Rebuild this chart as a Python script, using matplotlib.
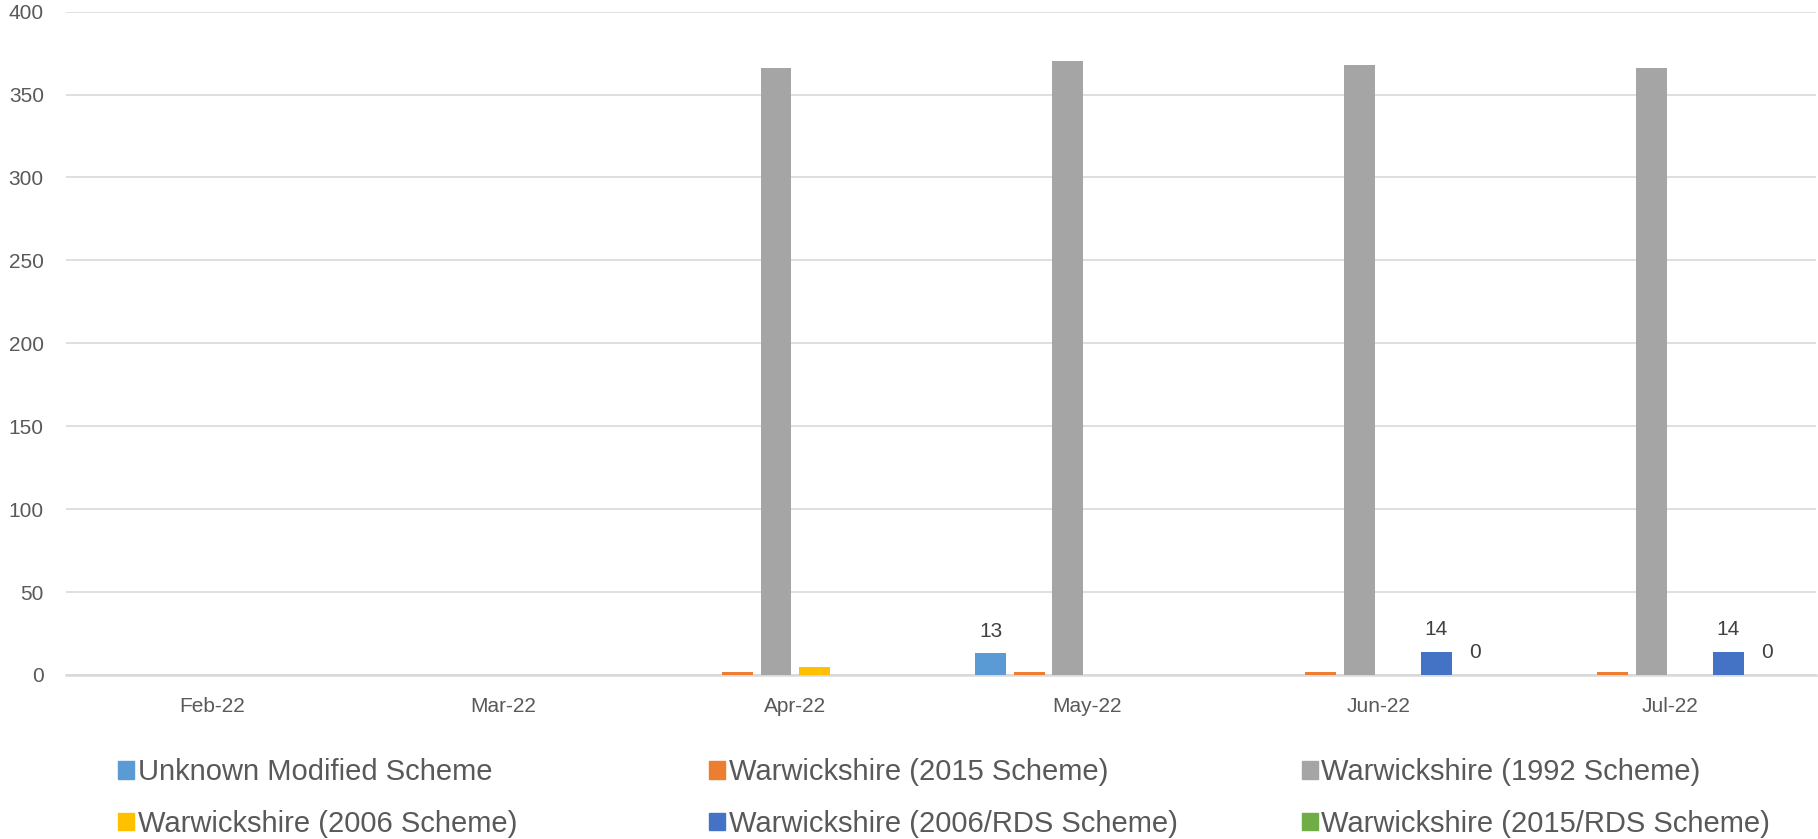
import numpy as np
import matplotlib.pyplot as plt
from matplotlib.patches import Patch

months = ["Feb-22", "Mar-22", "Apr-22", "May-22", "Jun-22", "Jul-22"]
names = ["Unknown Modified Scheme", "Warwickshire (2015 Scheme)", "Warwickshire (1992 Scheme)",
         "Warwickshire (2006 Scheme)", "Warwickshire (2006/RDS Scheme)", "Warwickshire (2015/RDS Scheme)"]
nan = np.nan
unknown = [nan, nan, nan, 13, nan, nan]
w2015 = [nan, nan, 2, 2, 2, 2]
w1992 = [nan, nan, 366, 370, 368, 366]
w2006 = [nan, nan, 5, nan, nan, nan]
w2006rds = [nan, nan, nan, nan, 14, 14]
w2015rds = [nan, nan, nan, nan, 0, 0]
series = [unknown, w2015, w1992, w2006, w2006rds, w2015rds]
labelled = [True, False, False, False, True, True]
colors = ["#5B9BD5", "#ED7D31", "#A5A5A5", "#FFC000", "#4472C4", "#70AD47"]

plt.rcParams['font.family'] = ['Liberation Sans', 'DejaVu Sans']
txt = "#595959"

fig = plt.figure(figsize=(18.18, 8.39), dpi=100)
ax = fig.add_axes([0.0363, 0.1955, 0.9627, 0.7907])

x = np.arange(len(months))
width = 0.106
pitch = 0.132
for i, (vals, c) in enumerate(zip(series, colors)):
    bars = ax.bar(x + (i - 2.5) * pitch, vals, width, color=c, zorder=3)
    if labelled[i]:
        labs = ["" if np.isnan(v) else "%d" % v for v in vals]
        ax.bar_label(bars, labels=labs, padding=9, fontsize=15, color="#404040")

ax.set_xlim(-0.5, 5.5)
ax.set_ylim(0, 400)
ax.set_yticks(range(0, 401, 50))
ax.set_xticks(x)
ax.set_xticklabels(months)
ax.grid(axis="y", color="#d9d9d9", linewidth=1.2, zorder=0)
for s in ["top", "right", "left"]:
    ax.spines[s].set_visible(False)
ax.spines["bottom"].set_color("#d9d9d9")
ax.spines["bottom"].set_linewidth(1.8)
ax.tick_params(axis="both", length=0, labelsize=15, labelcolor=txt)
ax.tick_params(axis="y", pad=16)
ax.tick_params(axis="x", pad=16)

# legend: three equally spaced columns
col_x = [0.065, 0.390, 0.716]
for j in range(3):
    idx = [j, j + 3]
    fig.legend([Patch(color=colors[k]) for k in idx], [names[k] for k in idx],
               loc="upper left", bbox_to_anchor=(col_x[j], 0.096), frameon=False,
               fontsize=21, labelcolor=txt, handlelength=0.55, handleheight=0.55,
               handletextpad=0.12, labelspacing=0.8, borderpad=0, borderaxespad=0)

fig.savefig("out.png")
